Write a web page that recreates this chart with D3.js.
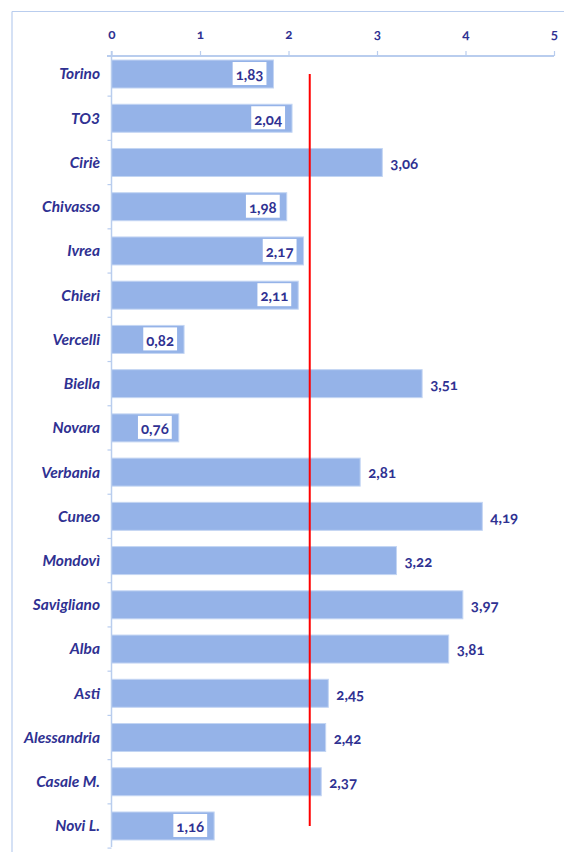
<!DOCTYPE html>
<html>
<head>
<meta charset="utf-8">
<script src="https://cdn.jsdelivr.net/npm/d3@7/dist/d3.min.js"></script>
<style>
  html, body { margin: 0; padding: 0; background: #fff; }
  svg { display: block; }
  .num { font-variant-numeric: oldstyle-nums; font-feature-settings: "onum" 1; }
</style>
</head>
<body>
<script>
// Province/area values
const categories = ["Torino", "TO3", "Ciriè", "Chivasso", "Ivrea", "Chieri", "Vercelli", "Biella", "Novara",
  "Verbania", "Cuneo", "Mondovì", "Savigliano", "Alba", "Asti", "Alessandria", "Casale M.", "Novi L."];
const values = [1.83, 2.04, 3.06, 1.98, 2.17, 2.11, 0.82, 3.51, 0.76,
  2.81, 4.19, 3.22, 3.97, 3.81, 2.45, 2.42, 2.37, 1.16];
const referenceValue = 2.24;
const xTicks = [0, 1, 2, 3, 4, 5];

const W = 564, H = 852;
const textColor = "#2f3192";
const barColor = "#95b3e8";
const axisColor = "#b9cdee";
const fontFamily = "Lato, 'Open Sans', sans-serif";

const svg = d3.select("body").append("svg").attr("width", W).attr("height", H);

// frame lines (top and left)
svg.append("line").attr("x1", 12).attr("x2", W).attr("y1", 11.5).attr("y2", 11.5)
  .attr("stroke", axisColor).attr("stroke-width", 1.2);
svg.append("line").attr("x1", 12).attr("x2", 12).attr("y1", 11.5).attr("y2", H)
  .attr("stroke", axisColor).attr("stroke-width", 1.2);

const x = d3.scaleLinear().domain([0, 5]).range([111.5, 554]);
const y = d3.scaleBand().domain(categories).range([51.9, 848.1]).paddingInner(0.367).paddingOuter(0.1835);

const axisY = 56;

// top value axis
const xAxis = svg.append("g").attr("transform", `translate(0,${axisY})`)
  .call(d3.axisTop(x).tickValues(xTicks).tickSize(5).tickPadding(12).tickFormat(d3.format("d")));
xAxis.select(".domain").attr("stroke", axisColor).attr("stroke-width", 2)
  .attr("d", `M107,0H${x(5)}`);
xAxis.selectAll(".tick line").attr("stroke", axisColor).attr("stroke-width", 1.2);
xAxis.selectAll(".tick text").attr("fill", textColor).attr("class", "num")
  .style("font-family", fontFamily).style("font-weight", "bold").style("font-size", "13.5px");

// bars
svg.append("g").selectAll("rect").data(values).join("rect")
  .attr("x", x(0))
  .attr("y", (d, i) => y(categories[i]))
  .attr("width", d => x(d) - x(0))
  .attr("height", y.bandwidth())
  .attr("fill", barColor)
  .attr("stroke", "#c3d5f3").attr("stroke-width", 1);

// left category axis: line and ticks at category boundaries
const step = y.step();
const y0 = y.range()[0];
const gY = svg.append("g");
gY.append("line").attr("x1", x(0)).attr("x2", x(0)).attr("y1", axisY - 5).attr("y2", y0 + step * categories.length - 1)
  .attr("stroke", axisColor).attr("stroke-width", 1.5);
gY.selectAll("line.t").data(d3.range(1, categories.length + 1)).join("line").attr("class", "t")
  .attr("x1", x(0) - 4).attr("x2", x(0))
  .attr("y1", i => y0 + step * i).attr("y2", i => y0 + step * i)
  .attr("stroke", axisColor).attr("stroke-width", 1.2);

// category labels
svg.append("g").selectAll("text").data(categories).join("text")
  .attr("x", 100)
  .attr("y", d => y(d) + y.bandwidth() / 2)
  .attr("dy", "0.35em")
  .attr("text-anchor", "end")
  .attr("fill", textColor)
  .style("font-family", fontFamily)
  .style("font-weight", "bold").style("font-style", "italic").style("font-size", "15.5px")
  .text(d => d);

// reference line
svg.append("line")
  .attr("x1", x(referenceValue)).attr("x2", x(referenceValue))
  .attr("y1", y(categories[0]) + y.bandwidth() / 2)
  .attr("y2", y(categories[categories.length - 1]) + y.bandwidth() / 2)
  .attr("stroke", "#ff0000").attr("stroke-width", 2);

// value labels: inside the bar end on a white box when below the reference, outside otherwise
const fmt = v => v.toFixed(2).replace(".", ",");
const lg = svg.append("g");
values.forEach((v, i) => {
  const cy = y(categories[i]) + y.bandwidth() / 2;
  const inside = v < referenceValue;
  const t = lg.append("text")
    .attr("class", "num")
    .attr("y", cy + 1).attr("dy", "0.35em")
    .attr("fill", textColor)
    .style("font-family", fontFamily)
    .style("font-weight", "bold").style("font-size", "15px")
    .text(fmt(v));
  if (inside) {
    t.attr("text-anchor", "end").attr("x", x(v) - 10);
    const bb = t.node().getBBox();
    lg.insert("rect", () => t.node())
      .attr("x", bb.x - 3).attr("y", cy - 12)
      .attr("width", bb.width + 6).attr("height", 23)
      .attr("fill", "#fff");
  } else {
    t.attr("text-anchor", "start").attr("x", x(v) + 8);
  }
});
</script>
</body>
</html>
